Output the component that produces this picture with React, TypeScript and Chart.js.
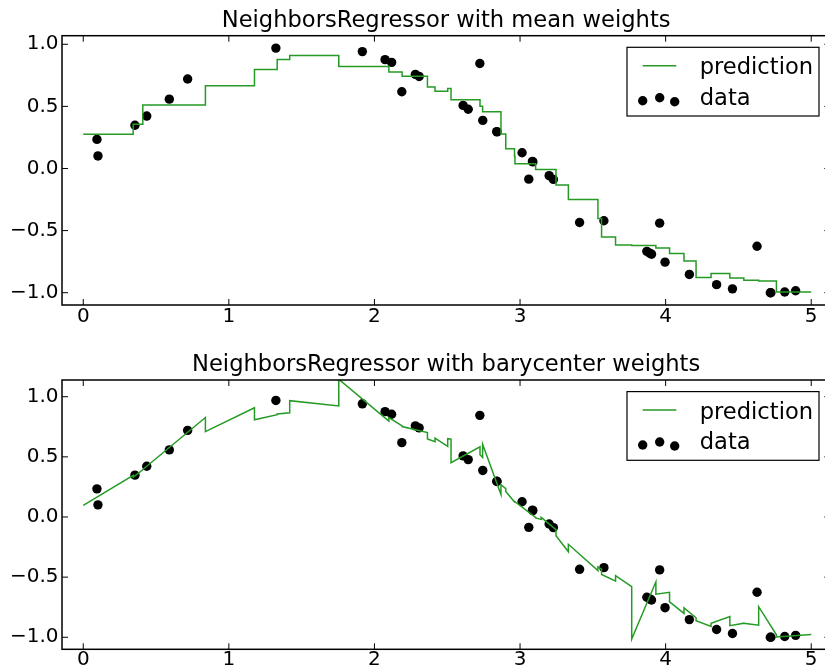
import React, { useEffect, useRef } from 'react';
import { Chart, registerables } from 'chart.js';

Chart.register(...registerables);

// Training samples (x sorted, noisy sine targets)
const sampleX = [0.094, 0.101, 0.355, 0.436, 0.591, 0.717, 1.323, 1.917, 2.073, 2.118, 2.188, 2.281, 2.307, 2.609, 2.644, 2.724, 2.744, 2.840, 2.842, 3.014, 3.060, 3.085, 3.088, 3.200, 3.229, 3.409, 3.576, 3.871, 3.891, 3.903, 3.959, 3.996, 4.163, 4.350, 4.459, 4.628, 4.719, 4.723, 4.818, 4.893];
const sampleY = [0.234, 0.101, 0.348, 0.422, 0.558, 0.720, 0.969, 0.941, 0.876, 0.854, 0.618, 0.758, 0.741, 0.508, 0.477, 0.845, 0.387, 0.297, 0.295, 0.127, -0.086, 0.057, 0.053, -0.058, -0.088, -0.435, -0.421, -0.667, -0.681, -0.690, -0.440, -0.754, -0.853, -0.935, -0.969, -0.626, -1.000, -1.000, -0.994, -0.984];

// Mean-weights prediction: piecewise constant, each level holds from its x to the next
const meanStepX = [0, 0.343, 0.409, 0.839, 1.176, 1.332, 1.418, 1.755, 2.099, 2.190, 2.364, 2.416, 2.503, 2.526, 2.725, 2.743, 2.869, 2.902, 2.962, 2.965, 3.107, 3.145, 3.247, 3.332, 3.535, 3.560, 3.656, 3.767, 3.933, 4.027, 4.126, 4.209, 4.312, 4.441, 4.537, 4.639, 4.761, 5.0];
const meanStepY = [0.276, 0.357, 0.512, 0.667, 0.797, 0.877, 0.910, 0.822, 0.777, 0.743, 0.656, 0.621, 0.643, 0.554, 0.501, 0.456, 0.277, 0.158, 0.098, 0.038, -0.008, -0.009, -0.132, -0.250, -0.403, -0.551, -0.615, -0.619, -0.641, -0.684, -0.745, -0.878, -0.846, -0.882, -0.899, -0.905, -0.995, -0.995];

// Barycenter-weights prediction: vertices of the piecewise linear curve
const baryX = [0, 0.343, 0.343, 0.409, 0.409, 0.839, 0.839, 1.176, 1.176, 1.332, 1.332, 1.418, 1.418, 1.755, 1.755, 2.099, 2.099, 2.190, 2.190, 2.364, 2.364, 2.416, 2.416, 2.503, 2.503, 2.526, 2.526, 2.725, 2.725, 2.743, 2.743, 2.869, 2.869, 2.902, 2.902, 2.962, 2.965, 3.107, 3.107, 3.145, 3.145, 3.247, 3.247, 3.332, 3.332, 3.535, 3.535, 3.560, 3.560, 3.656, 3.656, 3.767, 3.767, 3.933, 3.933, 4.027, 4.027, 4.126, 4.126, 4.209, 4.209, 4.312, 4.312, 4.441, 4.441, 4.537, 4.537, 4.639, 4.639, 4.761, 4.761, 5.0];
const baryY = [0.097, 0.347, 0.331, 0.393, 0.395, 0.827, 0.710, 0.908, 0.808, 0.851, 0.856, 0.866, 0.967, 0.923, 1.145, 0.797, 0.826, 0.758, 0.752, 0.702, 0.649, 0.626, 0.655, 0.588, 0.651, 0.648, 0.451, 0.584, 0.518, 0.495, 0.604, 0.186, 0.268, 0.236, 0.213, 0.124, 0.127, -0.004, -0.008, -0.020, -0.003, -0.105, -0.156, -0.289, -0.227, -0.445, -0.414, -0.434, -0.478, -0.533, -0.487, -0.579, -1.014, -0.539, -0.642, -0.626, -0.705, -0.802, -0.755, -0.838, -0.862, -0.910, -0.883, -0.828, -0.904, -0.883, -0.884, -0.900, -0.746, -0.979, -0.997, -0.976];

const xTickValues = [0, 1, 2, 3, 4, 5];
const xTickLabels = ['0', '1', '2', '3', '4', '5'];
const yTickValues = [-1, -0.5, 0, 0.5, 1];
const yTickLabels = ['\u22121.0', '\u22120.5', '0.0', '0.5', '1.0'];

const panelTitles = ['NeighborsRegressor with mean weights', 'NeighborsRegressor with barycenter weights'];
const legendLabels = ['prediction', 'data'];

const FONT = '"DejaVu Sans", "Liberation Sans", sans-serif';
const GREEN = '#259b25';
const CANVAS_W = 835;
const TICK_LEN = 6;

type PanelSpec = {
  title: string;
  lineX: number[];
  lineY: number[];
  stepped: boolean;
  height: number;
  top: number;
  areaTop: number;
  xAxisHeight: number;
  xLabelPad: number;
  yMin: number;
  yMax: number;
};

// Frame, inward ticks on all sides, title and legend, drawn over the plot
const panelDecor = {
  id: 'panelDecor',
  afterDraw(chart: any, _args: any, opts: any) {
    const { ctx, chartArea: a, scales } = chart;
    const xs = scales.x;
    const ys = scales.y;
    ctx.save();

    ctx.strokeStyle = '#000';
    ctx.lineWidth = 1;
    ctx.beginPath();
    for (const v of xTickValues) {
      const p = xs.getPixelForValue(v);
      ctx.moveTo(p, a.bottom);
      ctx.lineTo(p, a.bottom - TICK_LEN);
      ctx.moveTo(p, a.top);
      ctx.lineTo(p, a.top + TICK_LEN);
    }
    for (const v of yTickValues) {
      const p = ys.getPixelForValue(v);
      ctx.moveTo(a.left, p);
      ctx.lineTo(a.left + TICK_LEN, p);
      ctx.moveTo(a.right, p);
      ctx.lineTo(a.right - TICK_LEN, p);
    }
    ctx.stroke();

    ctx.lineWidth = 1.5;
    ctx.strokeRect(a.left, a.top, a.right - a.left, a.bottom - a.top);

    // title
    ctx.fillStyle = '#000';
    ctx.font = `22.6px ${FONT}`;
    ctx.textAlign = 'center';
    ctx.textBaseline = 'alphabetic';
    ctx.fillText(opts.title, (a.left + a.right) / 2, a.top - 8.7);

    // legend box (upper right)
    const lw = 192;
    const lh = 68.7;
    const lx = a.right - 11.3 - lw;
    const ly = a.top + 11.6;
    ctx.fillStyle = '#fff';
    ctx.fillRect(lx, ly, lw, lh);
    ctx.lineWidth = 1.2;
    ctx.strokeStyle = '#000';
    ctx.strokeRect(lx, ly, lw, lh);

    ctx.strokeStyle = GREEN;
    ctx.lineWidth = 1.5;
    ctx.beginPath();
    ctx.moveTo(lx + 15.7, ly + 18.4);
    ctx.lineTo(lx + 49.3, ly + 18.4);
    ctx.stroke();

    ctx.fillStyle = '#000';
    const dots = [[15.7, 53.4], [32.7, 50.4], [47.7, 54.4]];
    for (const [dx, dy] of dots) {
      ctx.beginPath();
      ctx.arc(lx + dx, ly + dy, 4.7, 0, Math.PI * 2);
      ctx.fill();
    }

    ctx.textAlign = 'left';
    ctx.fillText(legendLabels[0], lx + 72.7, ly + 27);
    ctx.fillText(legendLabels[1], lx + 72.7, ly + 57.7);

    ctx.restore();
  },
};

function Panel({ spec }: { spec: PanelSpec }) {
  const ref = useRef<HTMLCanvasElement | null>(null);

  useEffect(() => {
    if (!ref.current) return;
    const linePts = spec.lineX.map((x, i) => ({ x, y: spec.lineY[i] }));
    const dataPts = sampleX.map((x, i) => ({ x, y: sampleY[i] }));
    const chart = new Chart(ref.current, {
      type: 'scatter',
      data: {
        datasets: [
          {
            type: 'line',
            label: legendLabels[0],
            data: linePts,
            borderColor: GREEN,
            borderWidth: 1.5,
            pointRadius: 0,
            fill: false,
            tension: 0,
            stepped: spec.stepped,
          } as any,
          {
            type: 'scatter',
            label: legendLabels[1],
            data: dataPts,
            backgroundColor: '#000',
            borderColor: '#000',
            borderWidth: 0,
            pointRadius: 4.7,
            pointHoverRadius: 4.7,
          },
        ],
      },
      options: {
        responsive: false,
        animation: false,
        events: [],
        layout: { padding: { top: spec.areaTop, left: 0, right: CANVAS_W - 833.4, bottom: 0 } },
        plugins: {
          legend: { display: false },
          tooltip: { enabled: false },
          title: { display: false },
          panelDecor: { title: spec.title },
        } as any,
        scales: {
          x: {
            type: 'linear',
            min: -0.146,
            max: 5.131,
            grid: { display: false, drawTicks: false },
            border: { display: false },
            afterBuildTicks: (s: any) => {
              s.ticks = xTickValues.map((value) => ({ value }));
            },
            afterFit: (s: any) => {
              s.height = spec.xAxisHeight;
            },
            ticks: {
              padding: spec.xLabelPad,
              autoSkip: false,
              maxRotation: 0,
              color: '#000',
              font: { family: FONT, size: 20 },
              callback: (_v: any, i: number) => xTickLabels[i],
            },
          },
          y: {
            type: 'linear',
            min: spec.yMin,
            max: spec.yMax,
            grid: { display: false, drawTicks: false },
            border: { display: false },
            afterBuildTicks: (s: any) => {
              s.ticks = yTickValues.map((value) => ({ value }));
            },
            afterFit: (s: any) => {
              s.width = 62;
            },
            ticks: {
              padding: 3.5,
              autoSkip: false,
              color: '#000',
              font: { family: FONT, size: 20 },
              callback: (_v: any, i: number) => yTickLabels[i],
            },
          },
        },
      },
      plugins: [panelDecor],
    });
    return () => chart.destroy();
  }, [spec]);

  return (
    <canvas
      ref={ref}
      width={CANVAS_W}
      height={spec.height}
      style={{ position: 'absolute', left: 0, top: spec.top, display: 'block' }}
    />
  );
}

const panels: PanelSpec[] = [
  {
    title: panelTitles[0],
    lineX: meanStepX,
    lineY: meanStepY,
    stepped: true,
    height: 335,
    top: 0,
    areaTop: 35.7,
    xAxisHeight: 30,
    xLabelPad: -0.5,
    yMin: -1.099,
    yMax: 1.069,
  },
  {
    title: panelTitles[1],
    lineX: baryX,
    lineY: baryY,
    stepped: false,
    height: 336,
    top: 335,
    areaTop: 45,
    xAxisHeight: 21.7,
    xLabelPad: -1.8,
    yMin: -1.1,
    yMax: 1.139,
  },
];

export default function App() {
  return (
    <div
      style={{
        position: 'fixed',
        left: 0,
        top: 0,
        width: 825,
        height: 671,
        overflow: 'hidden',
        background: '#fff',
      }}
    >
      {panels.map((p, i) => (
        <Panel key={i} spec={p} />
      ))}
    </div>
  );
}
